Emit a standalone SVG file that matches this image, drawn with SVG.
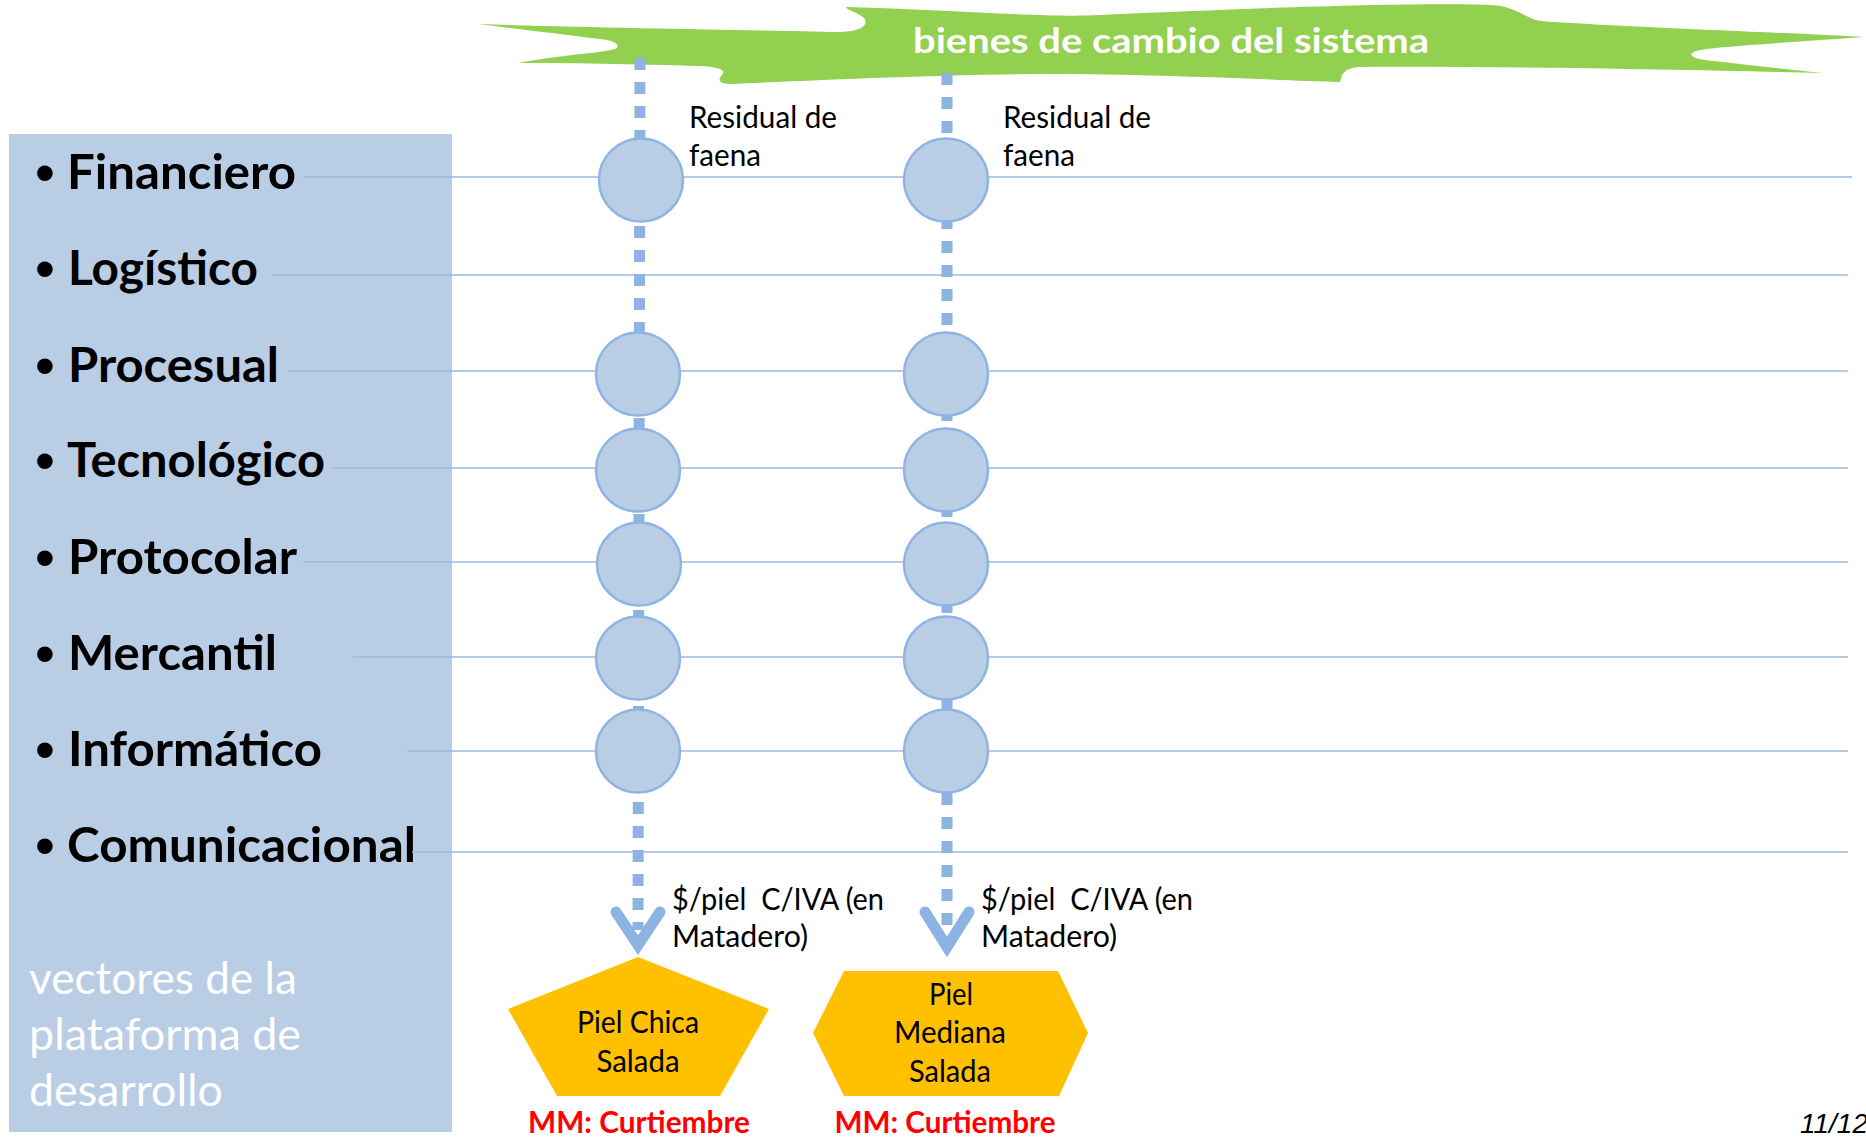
<svg xmlns="http://www.w3.org/2000/svg" width="1866" height="1137" viewBox="0 0 1866 1137">
<style>
.hl{stroke:#9DB9E0;stroke-width:1.5;fill:none}
.dot{stroke:#8DB3E2;stroke-width:11;stroke-dasharray:12 12;fill:none}
.chev{stroke:#8DB3E2;stroke-width:11;fill:none;stroke-linecap:round;stroke-linejoin:miter;stroke-miterlimit:10}
.node{fill:#B9CDE5;stroke:#8EB4E3;stroke-width:2.5}
.vec{font-family:Lato,"Liberation Sans",sans-serif;font-weight:bold;font-size:47px;fill:#000}
.bul{font-family:"Liberation Sans",sans-serif;font-size:58px;fill:#000;text-anchor:middle}
.lbl{font-family:Lato,"Liberation Sans",sans-serif;font-size:30px;fill:#000;white-space:pre}
.ctr{text-anchor:middle}
.red{font-family:Lato,"Liberation Sans",sans-serif;font-weight:bold;font-size:31px;fill:#FF0000;text-anchor:middle}
.shape{fill:#FFC000}
</style>
<rect id="panel" x="9" y="134" width="443" height="998" fill="#B9CDE5"/>
<g id="panel-text">
<text class="bul" x="45" y="192">•</text><text class="vec" x="67" y="189" textLength="229" lengthAdjust="spacingAndGlyphs">Financiero</text>
<text class="bul" x="45" y="288">•</text><text class="vec" x="68" y="285" textLength="190" lengthAdjust="spacingAndGlyphs">Logístico</text>
<text class="bul" x="45" y="385">•</text><text class="vec" x="68" y="382" textLength="211" lengthAdjust="spacingAndGlyphs">Procesual</text>
<text class="bul" x="45" y="480">•</text><text class="vec" x="67" y="477" textLength="258" lengthAdjust="spacingAndGlyphs">Tecnológico</text>
<text class="bul" x="45" y="577">•</text><text class="vec" x="68" y="574" textLength="229" lengthAdjust="spacingAndGlyphs">Protocolar</text>
<text class="bul" x="45" y="673">•</text><text class="vec" x="68" y="670" textLength="209" lengthAdjust="spacingAndGlyphs">Mercantil</text>
<text class="bul" x="45" y="769">•</text><text class="vec" x="68" y="766" textLength="254" lengthAdjust="spacingAndGlyphs">Informático</text>
<text class="bul" x="45" y="865">•</text><text class="vec" x="67" y="862" textLength="349" lengthAdjust="spacingAndGlyphs">Comunicacional</text>
<g font-family="Lato,'Liberation Sans',sans-serif" font-size="45" fill="#FFFFFF">
<text x="29" y="994" textLength="268" lengthAdjust="spacingAndGlyphs">vectores de la</text>
<text x="29" y="1050" textLength="272" lengthAdjust="spacingAndGlyphs">plataforma de</text>
<text x="29" y="1106" textLength="194" lengthAdjust="spacingAndGlyphs">desarrollo</text>
</g>
</g>
<g id="banner">
<path fill="#92D050" d="M478,24 C600,28 760,30 838,32 C858,32 870,26 864,18 C858,12 846,10 846,7 C950,10 1050,18 1100,15 C1250,8 1420,2 1491,5 C1515,6 1525,18 1540,21 C1640,28 1800,33 1864,37 C1800,42 1720,46 1700,50 C1686,53 1690,58 1705,60 C1750,65 1790,70 1823,73 C1700,70 1500,66 1360,67 C1340,68 1342,78 1340,82 C1280,80 1150,74 1050,74 C950,74 820,80 729,84 C718,83 718,80 722,75 C726,70 720,67 700,66 C640,64 560,63 518,63 C560,55 612,52 617,48 C620,44 612,40 600,39 C560,34 510,28 478,24 Z"/>
<text x="1171" y="53" text-anchor="middle" font-family="Lato,'Liberation Sans',sans-serif" font-weight="bold" font-size="35" fill="#FFFFFF" textLength="516" lengthAdjust="spacingAndGlyphs">bienes de cambio del sistema</text>
</g>
<g id="connectors">
<line class="hl" x1="303" y1="177" x2="1852" y2="177"/>
<line class="hl" x1="272" y1="275" x2="1848" y2="275"/>
<line class="hl" x1="288" y1="371" x2="1848" y2="371"/>
<line class="hl" x1="333" y1="468" x2="1848" y2="468"/>
<line class="hl" x1="303" y1="562" x2="1848" y2="562"/>
<line class="hl" x1="353" y1="657" x2="1848" y2="657"/>
<line class="hl" x1="407" y1="751" x2="1848" y2="751"/>
<line class="hl" x1="412" y1="852" x2="1848" y2="852"/>
<line class="dot" x1="640" y1="58" x2="638" y2="930"/>
<line class="dot" x1="947" y1="73" x2="947" y2="934"/>
<polyline class="chev" points="616,912 638,945 660,912"/>
<polyline class="chev" points="925,912 947,947 969,912"/>
</g>
<g id="col1">
<ellipse id="c1-fin" class="node" cx="641" cy="180" rx="42" ry="41.5"/>
<ellipse id="c1-pro" class="node" cx="638" cy="374" rx="42" ry="41.5"/>
<ellipse id="c1-tec" class="node" cx="638" cy="470" rx="42" ry="41.5"/>
<ellipse id="c1-prot" class="node" cx="639" cy="564" rx="42" ry="41.5"/>
<ellipse id="c1-mer" class="node" cx="638" cy="658" rx="42" ry="41.5"/>
<ellipse id="c1-inf" class="node" cx="638" cy="751" rx="42" ry="41.5"/>
</g>
<g id="col2">
<ellipse id="c2-fin" class="node" cx="946" cy="180" rx="42" ry="41.5"/>
<ellipse id="c2-pro" class="node" cx="946" cy="374" rx="42" ry="41.5"/>
<ellipse id="c2-tec" class="node" cx="946" cy="470" rx="42" ry="41.5"/>
<ellipse id="c2-prot" class="node" cx="946" cy="564" rx="42" ry="41.5"/>
<ellipse id="c2-mer" class="node" cx="946" cy="658" rx="42" ry="41.5"/>
<ellipse id="c2-inf" class="node" cx="946" cy="751" rx="42" ry="41.5"/>
</g>
<g id="labels">
<text class="lbl" x="689" y="128" textLength="148" lengthAdjust="spacingAndGlyphs">Residual de</text>
<text class="lbl" x="689" y="166" textLength="72" lengthAdjust="spacingAndGlyphs">faena</text>
<text class="lbl" x="1003" y="128" textLength="148" lengthAdjust="spacingAndGlyphs">Residual de</text>
<text class="lbl" x="1003" y="166" textLength="72" lengthAdjust="spacingAndGlyphs">faena</text>
<text class="lbl" x="672" y="910" textLength="212" lengthAdjust="spacingAndGlyphs">$/piel  C/IVA (en</text>
<text class="lbl" x="672" y="947" textLength="136" lengthAdjust="spacingAndGlyphs">Matadero)</text>
<text class="lbl" x="981" y="910" textLength="212" lengthAdjust="spacingAndGlyphs">$/piel  C/IVA (en</text>
<text class="lbl" x="981" y="947" textLength="136" lengthAdjust="spacingAndGlyphs">Matadero)</text>
</g>
<g id="piel-chica">
<polygon class="shape" points="638,957 769,1009 720,1096 557,1096 508,1009"/>
<text class="lbl ctr" x="638" y="1033" textLength="122" lengthAdjust="spacingAndGlyphs">Piel Chica</text>
<text class="lbl ctr" x="638" y="1072" textLength="83" lengthAdjust="spacingAndGlyphs">Salada</text>
<text class="red" x="639" y="1133" textLength="222" lengthAdjust="spacingAndGlyphs">MM: Curtiembre</text>
</g>
<g id="piel-mediana">
<polygon class="shape" points="844,971 1058,971 1088,1033 1059,1096 844,1096 813,1033"/>
<text class="lbl ctr" x="951" y="1005" textLength="44" lengthAdjust="spacingAndGlyphs">Piel</text>
<text class="lbl ctr" x="950" y="1043" textLength="112" lengthAdjust="spacingAndGlyphs">Mediana</text>
<text class="lbl ctr" x="950" y="1082" textLength="82" lengthAdjust="spacingAndGlyphs">Salada</text>
<text class="red" x="945" y="1133" textLength="221" lengthAdjust="spacingAndGlyphs">MM: Curtiembre</text>
</g>
<text x="1800" y="1133" font-family="'Liberation Sans',sans-serif" font-style="italic" font-size="28" fill="#000">11/12</text>
</svg>
